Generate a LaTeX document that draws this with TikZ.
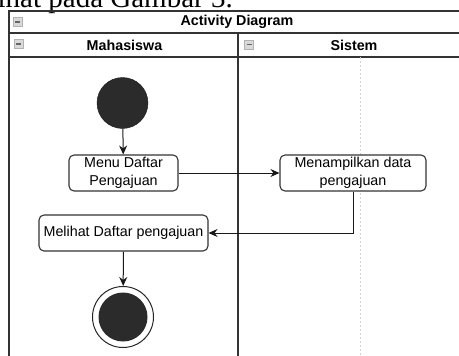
\documentclass[tikz,border=0pt]{standalone}
\usepackage{fontspec}
\setmainfont{Liberation Sans}
\newfontfamily\bodyserif{Liberation Serif}
\usetikzlibrary{arrows.meta}
\begin{document}
\begin{tikzpicture}[x=1pt,y=-1pt,
  lane/.style={draw=black!80, line width=1.5pt},
  act/.style={draw=black!80, line width=1.1pt, rounded corners=5pt, fill=white,
    align=center, inner sep=2pt, font=\fontsize{14.3}{17.6}\selectfont},
  flow/.style={draw=black!90, line width=1pt, -{Stealth[length=9pt,width=8pt]}},
  hdr/.style={font=\bfseries\fontsize{14.3}{17}\selectfont},
  btn/.style={draw=gray!60, fill=gray!30, minimum size=9pt, inner sep=0pt,
    path picture={\draw[black!60, line width=1.3pt]
      ([xshift=2pt]path picture bounding box.west) --
      ([xshift=-2pt]path picture bounding box.east);}}]
\useasboundingbox (0,0) rectangle (459,356);
\clip (0,0) rectangle (459,356);
\fill[white] (0,0) rectangle (459,356);

% caption line above the figure
\node[anchor=base east, inner sep=0pt, font=\bodyserif\fontsize{29}{30}\selectfont]
  (cap) at (233,8) {lihat pada Gambar 3.};

% swimlane frame
\draw[lane] (9,370) -- (9,11) -- (470,11);
\draw[lane] (9,33) -- (470,33);
\draw[lane] (9,57) -- (470,57);
\draw[lane] (238,33) -- (238,370);
\draw[gray!35, line width=0.8pt, dash pattern=on 2pt off 2pt] (360,57) -- (360,370);

\node[btn] (b1) at (17.5,22) {};
\node[btn] (b2) at (18.5,44) {};
\node[btn] (b3) at (249,44.5) {};
\node[hdr] (title) at (237,22) {Activity Diagram};
\node[hdr] (laneA) at (124.5,45) {Mahasiswa};
\node[hdr] (laneB) at (354,45) {Sistem};

% activities
\node[circle, fill=black!83, draw=black!90, minimum size=51pt, inner sep=0pt] (start) at (122.5,103) {};
\node[act, minimum width=109pt, minimum height=36pt] (menu) at (123.5,173) {Menu Daftar\\Pengajuan};
\node[act, minimum width=146pt, minimum height=36pt] (tampil) at (353,173) {Menampilkan data\\pengajuan};
\node[act, minimum width=169pt, minimum height=36pt] (lihat) at (123.5,233) {Melihat Daftar pengajuan};
\node[circle, draw=black!85, line width=1pt, fill=white, minimum size=61pt, inner sep=0pt] (stop) at (123,317) {};
\node[circle, fill=black!83, minimum size=49pt, inner sep=0pt] (stopdot) at (stop.center) {};

% control flow
\draw[flow] (start) -- (menu);
\draw[flow] (menu) -- (tampil);
\draw[flow] (tampil.south) |- (lihat.east);
\draw[flow] (lihat) -- (stop);
\end{tikzpicture}
\end{document}
